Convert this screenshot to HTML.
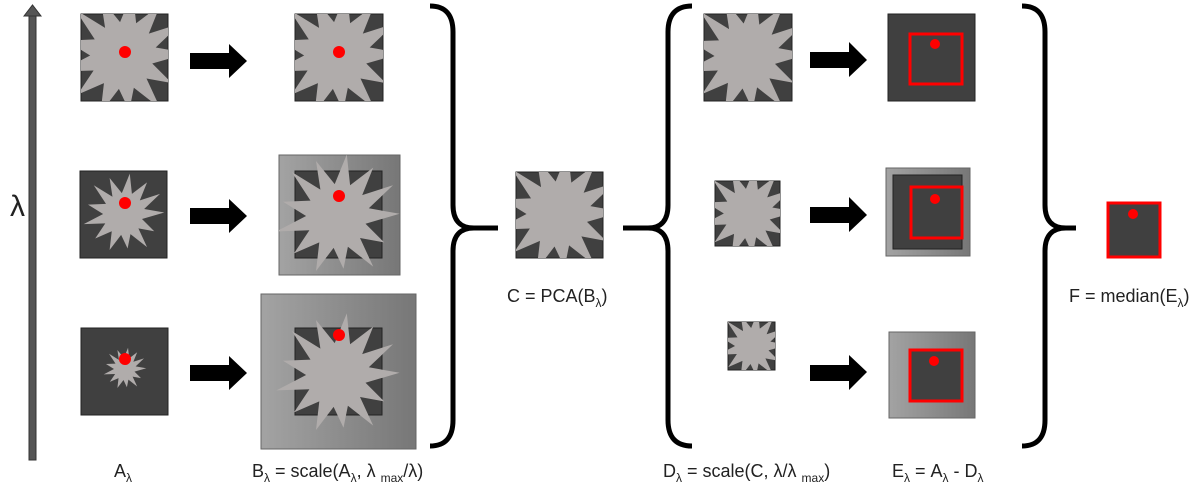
<!DOCTYPE html>
<html><head><meta charset="utf-8"><style>
html,body{margin:0;padding:0;background:#fff;width:1200px;height:491px;overflow:hidden}
text{font-family:"Liberation Sans",sans-serif;fill:#222}
</style></head><body>
<svg width="1200" height="491" viewBox="0 0 1200 491" xmlns="http://www.w3.org/2000/svg">
<defs>
<polygon id="st" points="106,48 75,57 92,74 70,70 82,96 59,78 55,98 46,79 30,100 33,74 10,84 24,63 -6,64 21,50 0,37 25,36 8,10 34,26 30,0 47,21 58,-6 61,22 82,6 72,31 100,22 78,43" fill="#b0acab"/>
<linearGradient id="g" x1="0" x2="1" y1="0" y2="0"><stop offset="0" stop-color="#a3a3a3"/><stop offset="1" stop-color="#777"/></linearGradient>
<clipPath id="cA1"><rect x="81" y="14" width="87" height="87"/></clipPath>
<clipPath id="cB1"><rect x="295" y="14" width="88" height="87"/></clipPath>
<clipPath id="cB2"><rect x="279" y="155" width="121" height="120"/></clipPath>
<clipPath id="cB3"><rect x="261" y="294" width="155" height="155"/></clipPath>
<clipPath id="cC"><rect x="516" y="172" width="87" height="86"/></clipPath>
<clipPath id="cD1"><rect x="704" y="14" width="88" height="87"/></clipPath>
<clipPath id="cD2"><rect x="715" y="181" width="65" height="65"/></clipPath>
<clipPath id="cD3"><rect x="728" y="322" width="47" height="48"/></clipPath>
</defs>

<rect x="29" y="14" width="7" height="446" fill="#555" stroke="#333" stroke-width="1"/>
<polygon points="24,16 32.5,5 41,16" fill="#555" stroke="#333"/>
<text x="10" y="216" font-size="30">λ</text>

<rect x="81" y="14" width="87" height="87" fill="#404040" stroke="#222"/>
<g clip-path="url(#cA1)"><use href="#st" transform="translate(66,-2) scale(1.15)"/></g>
<circle cx="125" cy="52" r="6" fill="#f00"/>
<rect x="80" y="171" width="87" height="87" fill="#404040" stroke="#222"/>
<use href="#st" transform="translate(88,178) scale(0.72)"/>
<circle cx="125" cy="203" r="6" fill="#f00"/>
<rect x="81" y="328" width="87" height="87" fill="#404040" stroke="#222"/>
<use href="#st" transform="translate(106,350) scale(0.38)"/>
<circle cx="125" cy="359" r="6" fill="#f00"/>

<g fill="#000">
<polygon points="190,53 229,53 229,44 247,61 229,78 229,69 190,69"/>
<polygon points="190,208 229,208 229,199 247,216 229,233 229,224 190,224"/>
<polygon points="190,365 229,365 229,356 247,373 229,390 229,381 190,381"/>
<polygon points="810,52 849,52 849,42 867,60 849,77 849,68 810,68"/>
<polygon points="810,207 849,207 849,197 867,215 849,232 849,223 810,223"/>
<polygon points="810,365 849,365 849,355 867,372 849,390 849,381 810,381"/>
</g>

<rect x="295" y="14" width="88" height="87" fill="#404040" stroke="#222"/>
<g clip-path="url(#cB1)"><use href="#st" transform="translate(280,-2) scale(1.15)"/></g>
<circle cx="339" cy="52" r="6" fill="#f00"/>
<rect x="279" y="155" width="121" height="120" fill="url(#g)" stroke="#666"/>
<rect x="295" y="171" width="87" height="87" fill="#404040" stroke="#222"/>
<g clip-path="url(#cB2)"><use href="#st" transform="translate(283,161) scale(1.1,1.1)"/></g>
<circle cx="339" cy="196" r="6" fill="#f00"/>
<rect x="261" y="294" width="155" height="155" fill="url(#g)" stroke="#666"/>
<rect x="295" y="328" width="87" height="87" fill="#404040" stroke="#222"/>
<g clip-path="url(#cB3)"><use href="#st" transform="translate(283,320) scale(1.1,1.1)"/></g>
<circle cx="339" cy="335" r="6" fill="#f00"/>

<g fill="none" stroke="#000" stroke-width="5">
<path d="M430,6 Q453,6 453,32 L453,205 Q453,228 474,228 L498,228 M474,228 Q453,228 453,251 L453,420 Q453,446 430,446"/>
<path d="M692,6 Q668,6 668,32 L668,205 Q668,228 648,228 L623,228 M648,228 Q668,228 668,251 L668,420 Q668,446 692,446"/>
<path d="M1022,6 Q1045,6 1045,32 L1045,205 Q1045,228 1066,228 L1076,228 M1066,228 Q1045,228 1045,251 L1045,420 Q1045,446 1022,446"/>
</g>

<rect x="516" y="172" width="87" height="86" fill="#404040" stroke="#222"/>
<g clip-path="url(#cC)"><use href="#st" transform="translate(503,158) scale(1.12)"/></g>
<text x="507" y="302" font-size="18">C = PCA(B<tspan font-size="12" dy="5">λ</tspan><tspan dy="-5">)</tspan></text>

<rect x="704" y="14" width="88" height="87" fill="#404040" stroke="#222"/>
<g clip-path="url(#cD1)"><use href="#st" transform="translate(691,0) scale(1.12)"/></g>
<rect x="715" y="181" width="65" height="65" fill="#404040" stroke="#222"/>
<g clip-path="url(#cD2)"><use href="#st" transform="translate(706,171) scale(0.85)"/></g>
<rect x="728" y="322" width="47" height="48" fill="#404040" stroke="#222"/>
<g clip-path="url(#cD3)"><use href="#st" transform="translate(722,315) scale(0.62)"/></g>

<rect x="888" y="14" width="87" height="87" fill="#404040" stroke="#222"/>
<rect x="910" y="34" width="52" height="50" fill="none" stroke="#f00" stroke-width="3"/>
<circle cx="935" cy="44" r="5" fill="#f00"/>
<rect x="886" y="168" width="84" height="88" fill="url(#g)" stroke="#666"/>
<rect x="893" y="175" width="69" height="74" fill="#404040" stroke="#222"/>
<rect x="911" y="187" width="51" height="51" fill="none" stroke="#f00" stroke-width="3"/>
<circle cx="935" cy="199" r="5" fill="#f00"/>
<rect x="889" y="332" width="86" height="86" fill="url(#g)" stroke="#666"/>
<rect x="910" y="350" width="52" height="51" fill="#404040" stroke="#f00" stroke-width="3"/>
<circle cx="934" cy="361" r="5" fill="#f00"/>

<rect x="1108" y="203" width="52" height="54" fill="#404040" stroke="#f00" stroke-width="3"/>
<circle cx="1133" cy="214" r="5" fill="#f00"/>
<text x="1069" y="302" font-size="18">F = median(E<tspan font-size="12" dy="5">λ</tspan><tspan dy="-5">)</tspan></text>

<g font-size="18">
<text x="114" y="477">A<tspan font-size="12" dy="5">λ</tspan></text>
<text x="252" y="477">B<tspan font-size="12" dy="5">λ</tspan><tspan dy="-5"> = scale(A</tspan><tspan font-size="12" dy="5">λ</tspan><tspan dy="-5">, λ </tspan><tspan font-size="12" dy="5">max</tspan><tspan dy="-5">/λ)</tspan></text>
<text x="663" y="477">D<tspan font-size="12" dy="5">λ</tspan><tspan dy="-5"> = scale(C, λ/λ </tspan><tspan font-size="12" dy="5">max</tspan><tspan dy="-5">)</tspan></text>
<text x="892" y="477">E<tspan font-size="12" dy="5">λ</tspan><tspan dy="-5"> = A</tspan><tspan font-size="12" dy="5">λ</tspan><tspan dy="-5"> - D</tspan><tspan font-size="12" dy="5">λ</tspan></text>
</g>
</svg>
</body></html>
